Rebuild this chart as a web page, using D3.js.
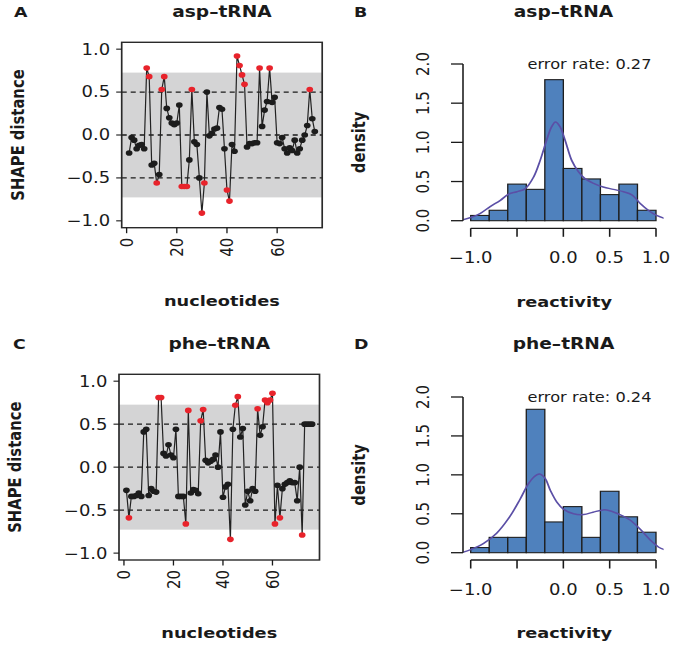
<!DOCTYPE html>
<html><head><meta charset="utf-8">
<script src="https://cdn.jsdelivr.net/npm/d3@7"></script>
<style>body{margin:0;background:#fff}svg{display:block}</style>
</head><body><svg id="c" width="675" height="647"></svg>
<script>
// ---------- data ----------
const aspShape = [-0.21,-0.03,-0.06,-0.16,-0.12,-0.11,-0.16,0.78,0.68,-0.35,
  -0.33,-0.56,-0.46,0.53,0.68,0.31,0.20,0.14,0.12,0.14,
  0.35,-0.60,-0.60,-0.60,-0.29,0.53,-0.08,-0.11,-0.50,-0.91,
  -0.56,0.50,-0.01,0.02,0.07,0.08,0.32,0.30,-0.16,-0.64,
  -0.77,-0.11,-0.19,0.92,0.81,0.70,0.59,-0.14,-0.10,-0.10,
  -0.09,-0.09,0.78,0.10,0.29,0.39,0.78,0.38,0.44,-0.09,
  -0.10,-0.03,-0.16,-0.21,-0.15,-0.18,-0.06,-0.21,-0.16,-0.06,
  0.00,0.11,0.53,0.19,0.04];
const pheShape = [-0.27,-0.59,-0.34,-0.34,-0.33,-0.30,-0.34,0.41,0.44,-0.33,
  -0.25,-0.28,-0.29,0.81,0.81,0.16,0.13,0.26,0.14,0.11,
  0.44,-0.34,-0.34,-0.34,-0.66,0.66,-0.30,-0.26,-0.27,-0.31,
  0.54,0.67,0.08,0.05,0.07,0.09,0.14,0.00,0.41,-0.35,
  -0.23,-0.20,-0.84,0.44,0.72,0.82,0.35,0.45,-0.44,-0.28,
  -0.39,-0.25,-0.28,0.68,0.37,0.47,0.78,0.75,0.78,0.86,
  -0.66,-0.21,-0.59,-0.25,-0.20,-0.18,-0.16,-0.18,-0.18,-0.39,
  0.00,-0.79,0.50,0.50,0.50,0.50];
const scatterXTicks = [0, 20, 40, 60];
const scatterYTicks = [-1, -0.5, 0, 0.5, 1];
const scatterYTickLabels = ["\u22121.0", "\u22120.5", "0.0", "0.5", "1.0"];
const dashedLevels = [-0.5, 0, 0.5];
const bandLimit = 0.727;
const redThreshold = 0.5;

const histBreaks = [-1,-0.8,-0.6,-0.4,-0.2,0,0.2,0.4,0.6,0.8,1];
const aspDensity = [0.067,0.133,0.467,0.400,1.800,0.667,0.533,0.333,0.467,0.133];
const pheDensity = [0.066,0.197,0.197,1.842,0.395,0.592,0.197,0.789,0.461,0.263];
const aspKdeX = [-1.09,-1.0,-0.9,-0.79,-0.68,-0.59,-0.5,-0.41,-0.32,-0.25,-0.18,-0.126,-0.085,-0.036,0.018,0.09,0.16,0.23,0.32,0.43,0.54,0.65,0.74,0.83,0.92,1.0,1.09];
const aspKdeY = [0.01,0.04,0.09,0.18,0.26,0.34,0.37,0.41,0.56,0.77,1.03,1.2,1.26,1.2,1.03,0.77,0.63,0.54,0.48,0.43,0.40,0.37,0.33,0.22,0.13,0.07,0.03];
const pheKdeX = [-1.09,-1.0,-0.86,-0.72,-0.58,-0.47,-0.38,-0.32,-0.26,-0.2,-0.14,-0.07,0.0,0.11,0.22,0.32,0.43,0.5,0.61,0.72,0.83,0.94,1.03,1.09];
const pheKdeY = [0.004,0.04,0.12,0.25,0.46,0.68,0.88,0.97,1.01,0.96,0.80,0.65,0.56,0.5,0.49,0.52,0.55,0.54,0.49,0.42,0.30,0.16,0.07,0.04];
const histXTicks = [-1, -0.5, 0, 0.5, 1];
const histXTickLabels = ["\u22121.0", "", "0.0", "0.5", "1.0"];
const histYTicks = [0, 0.5, 1, 1.5, 2];
const histYTickLabels = ["0.0", "0.5", "1.0", "1.5", "2.0"];
const errorRates = ["0.27", "0.24"];
const titles = ["asp\u2013tRNA", "phe\u2013tRNA"];
const letters = ["A", "B", "C", "D"];

// ---------- drawing ----------
const S = 1.2; // horizontal stretch of the whole figure
const X = v => v / S;
const FONT = "DejaVu Sans, sans-serif";
const INK = "#1a1a1a";
const TICK = 15, LAB = 14.8, TITLE = 15.5;
const svg = d3.select("#c");
const g = svg.append("g").attr("transform", `scale(${S},1)`);

function text(x, y, s, o = {}) {
  const t = g.append("text")
    .attr("font-family", FONT)
    .attr("font-size", o.size || 14)
    .attr("font-weight", o.bold ? "bold" : "normal")
    .attr("fill", INK)
    .attr("text-anchor", o.anchor || "middle")
    .text(s);
  if (o.rotate) {
    t.attr("transform", `translate(${X(x)},${y}) rotate(-90)`);
    if (o.dy) t.attr("dy", o.dy);
  } else {
    t.attr("x", X(x)).attr("y", y);
  }
  return t;
}

function scatter(cfg) {
  const { data, box, xDomain } = cfg;
  const x = d3.scaleLinear().domain(xDomain).range([X(box.l), X(box.r)]);
  const y = d3.scaleLinear().domain([-1.08, 1.08]).range([box.b, box.t]);
  const pg = g.append("g");
  pg.append("rect").attr("x", X(box.l)).attr("width", X(box.r) - X(box.l))
    .attr("y", y(bandLimit)).attr("height", y(-bandLimit) - y(bandLimit))
    .attr("fill", "#d4d4d5");
  pg.selectAll(".dash").data(dashedLevels).join("line")
    .attr("x1", X(box.l)).attr("x2", X(box.r))
    .attr("y1", d => y(d)).attr("y2", d => y(d))
    .attr("stroke", INK).attr("stroke-width", 1.4)
    .attr("stroke-dasharray", "4.2,3.3");
  const pts = data.map((v, i) => [i + 1, v]);
  pg.append("path").datum(pts)
    .attr("d", d3.line().x(d => x(d[0])).y(d => y(d[1])))
    .attr("fill", "none").attr("stroke", "#222").attr("stroke-width", 1);
  pg.selectAll("circle").data(pts).join("circle")
    .attr("cx", d => x(d[0])).attr("cy", d => y(d[1])).attr("r", 2.8)
    .attr("fill", d => Math.abs(d[1]) > redThreshold ? "#e8232b" : "#1c1c1c");
  pg.append("rect").attr("x", X(box.l)).attr("width", X(box.r) - X(box.l))
    .attr("y", box.t).attr("height", box.b - box.t)
    .attr("fill", "none").attr("stroke", "#2a2a2a").attr("stroke-width", 1.4);
  scatterYTicks.forEach((v, i) => {
    pg.append("line").attr("x1", X(box.l)).attr("x2", X(box.l - 5.5))
      .attr("y1", y(v)).attr("y2", y(v)).attr("stroke", INK).attr("stroke-width", 1.1);
    text(box.l - 11.5, y(v), scatterYTickLabels[i], { anchor: "end", size: TICK }).attr("dy", "0.36em");
  });
  scatterXTicks.forEach(v => {
    const px = x(v) * S;
    pg.append("line").attr("x1", x(v)).attr("x2", x(v))
      .attr("y1", box.b).attr("y2", box.b + 5.5).attr("stroke", INK).attr("stroke-width", 1.1);
    text(px, box.b + 10, String(v), { rotate: true, anchor: "end", size: TICK, dy: "0.36em" });
  });
  const cx = (box.l + box.r) / 2;
  text(cfg.letterX, cfg.titleY, cfg.letter, { anchor: "start", bold: true, size: 14.5 });
  text(cx, cfg.titleY, cfg.title, { bold: true, size: TITLE });
  text(cx, cfg.xlabY, "nucleotides", { bold: true, size: LAB });
  text(cfg.ylabX, (box.t + box.b) / 2, "SHAPE distance", { rotate: true, bold: true, size: LAB });
}

function hist(cfg) {
  const x = d3.scaleLinear().domain([-1, 1]).range([X(470.7), X(656)]);
  const y = d3.scaleLinear().domain([0, 2]).range([cfg.y0, cfg.y2]);
  const pg = g.append("g");
  const clipId = "clip" + cfg.letter;
  const ext = (cfg.y0 - cfg.y2) * 0.04;
  pg.append("clipPath").attr("id", clipId).append("rect")
    .attr("x", X(463.3)).attr("width", X(663.6) - X(463.3))
    .attr("y", cfg.y2 - ext).attr("height", cfg.y0 - cfg.y2 + 2 * ext);
  const bins = cfg.density.map((d, i) => ({ x0: histBreaks[i], x1: histBreaks[i + 1], d }));
  pg.selectAll("rect.bar").data(bins).join("rect").attr("class", "bar")
    .attr("x", d => x(d.x0)).attr("width", d => x(d.x1) - x(d.x0))
    .attr("y", d => y(d.d)).attr("height", d => y(0) - y(d.d))
    .attr("fill", "#4f81bd").attr("stroke", "#1e1e1e").attr("stroke-width", 1.1);
  const kde = cfg.kx.map((v, i) => [v, cfg.ky[i]]);
  pg.append("path").datum(kde).attr("clip-path", `url(#${clipId})`)
    .attr("d", d3.line().curve(d3.curveCatmullRom.alpha(0.5)).x(d => x(d[0])).y(d => y(d[1])))
    .attr("fill", "none").attr("stroke", "#5b4fa6").attr("stroke-width", 1.5);
  const ax = X(463);
  pg.append("line").attr("x1", ax).attr("x2", ax).attr("y1", y(0)).attr("y2", y(2))
    .attr("stroke", INK).attr("stroke-width", 1.3);
  histYTicks.forEach((v, i) => {
    pg.append("line").attr("x1", ax).attr("x2", X(451)).attr("y1", y(v)).attr("y2", y(v))
      .attr("stroke", INK).attr("stroke-width", 1.3);
    text(429, y(v), histYTickLabels[i], { rotate: true, size: TICK });
  });
  const ay = cfg.axisY;
  pg.append("line").attr("x1", x(-1)).attr("x2", x(1)).attr("y1", ay).attr("y2", ay)
    .attr("stroke", INK).attr("stroke-width", 1.3);
  histXTicks.forEach((v, i) => {
    pg.append("line").attr("x1", x(v)).attr("x2", x(v)).attr("y1", ay).attr("y2", ay + 8.5)
      .attr("stroke", INK).attr("stroke-width", 1.3);
    if (histXTickLabels[i]) text(x(v) * S, ay + 35, histXTickLabels[i], { size: TICK });
  });
  text(354, cfg.titleY, cfg.letter, { anchor: "start", bold: true, size: 14.5 });
  text(563.5, cfg.titleY, cfg.title, { bold: true, size: TITLE });
  text(589.5, cfg.errY, "error rate: " + cfg.err, { size: 13.5 });
  text(564.3, ay + 78.5, "reactivity", { bold: true, size: LAB });
  text(365, (cfg.y0 + cfg.y2) / 2, "density", { rotate: true, bold: true, size: LAB });
}

scatter({ data: aspShape, box: { l: 121.7, r: 322.2, t: 42.3, b: 227.7 }, xDomain: [-1.96, 77.96],
  letter: letters[0], title: titles[0], letterX: 14, titleY: 16.8, xlabY: 305.8, ylabX: 24 });
scatter({ data: pheShape, box: { l: 119, r: 319.5, t: 374.3, b: 560 }, xDomain: [-2, 79],
  letter: letters[2], title: titles[1], letterX: 13, titleY: 349.5, xlabY: 638.5, ylabX: 20.7 });
hist({ letter: letters[1], title: titles[0], density: aspDensity, kx: aspKdeX, ky: aspKdeY,
  y0: 220.7, y2: 64, axisY: 228.3, titleY: 16.8, errY: 68.7, err: errorRates[0] });
hist({ letter: letters[3], title: titles[1], density: pheDensity, kx: pheKdeX, ky: pheKdeY,
  y0: 552.7, y2: 397, axisY: 560, titleY: 349.5, errY: 401.7, err: errorRates[1] });
</script></body></html>
